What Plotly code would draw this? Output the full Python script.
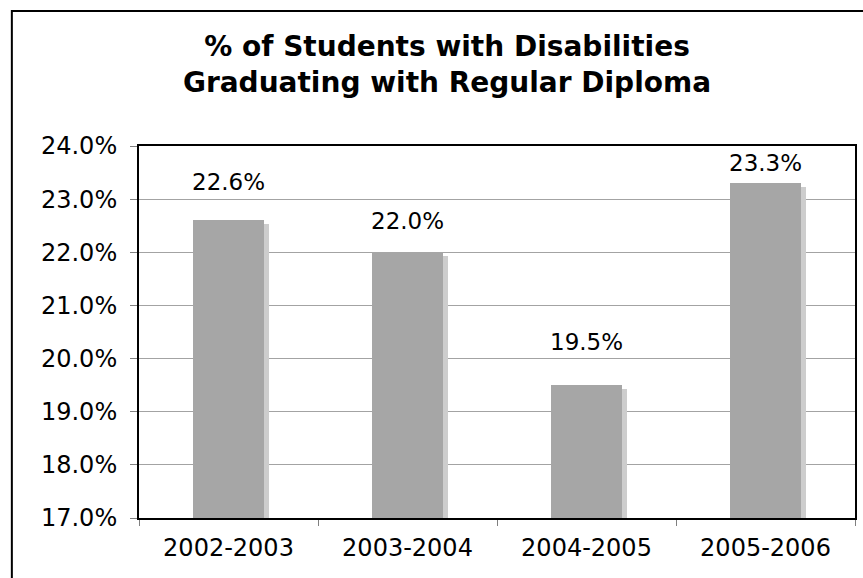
import plotly.graph_objects as go

# ---- data ----
categories = ["2002-2003", "2003-2004", "2004-2005", "2005-2006"]
values = [22.6, 22.0, 19.5, 23.3]
y_tick_values = [17, 18, 19, 20, 21, 22, 23, 24]
y_tick_labels = ["17.0%", "18.0%", "19.0%", "20.0%", "21.0%", "22.0%", "23.0%", "24.0%"]
title_lines = ["% of Students with Disabilities", "Graduating with Regular Diploma"]

# ---- style ----
FONT = "DejaVu Sans"
BAR_COLOR = "#a6a6a6"
SHADOW_COLOR = "#cdcdcd"
GRID_COLOR = "#a3a3a3"
bar_width = 0.40
shadow_dx = 0.028      # category units
shadow_dy = 0.075      # value units
label_shift_px = [38, 31, 43, 20]

fig = go.Figure()

# shadow
fig.add_trace(go.Bar(
    x=categories, y=[v - shadow_dy for v in values],
    width=bar_width, offset=-bar_width / 2 + shadow_dx,
    marker=dict(color=SHADOW_COLOR, line=dict(width=0)),
    hoverinfo="skip", showlegend=False,
))
# main bars
fig.add_trace(go.Bar(
    x=categories, y=values,
    width=bar_width, offset=-bar_width / 2,
    marker=dict(color=BAR_COLOR, line=dict(width=0)),
    showlegend=False,
))

for cat, v, s in zip(categories, values, label_shift_px):
    fig.add_annotation(
        x=cat, y=v, xref="x", yref="y", text=f"{v:.1f}%",
        showarrow=False, yanchor="middle", yshift=s,
        font=dict(family=FONT, size=23, color="black"),
    )

# outer border of the chart
L, R, T, B = 139, 857, 146, 518
pw, ph = R - L, B - T
fig.add_shape(
    type="rect", xref="paper", yref="paper",
    x0=(11.5 - L) / pw, x1=(875 - L) / pw,
    y0=(B - 590) / ph, y1=(B - 11) / ph,
    line=dict(color="black", width=2), fillcolor="rgba(0,0,0,0)",
    layer="above",
)

fig.update_layout(
    width=863, height=578,
    margin=dict(l=L, r=863 - R, t=T, b=578 - B),
    paper_bgcolor="white", plot_bgcolor="white",
    barmode="overlay", bargap=0,
    font=dict(family=FONT, color="black"),
    title=dict(
        text="<br>".join(title_lines),
        x=447 / 863, xanchor="center", xref="container",
        y=1 - 56 / 578, yanchor="middle", yref="container",
        font=dict(family=FONT, size=28, color="black", weight="bold"),
    ),
    xaxis=dict(
        type="category", range=[-0.5, 3.5],
        showline=True, linecolor="black", linewidth=2, mirror=True,
        ticks="outside", ticklen=6, tickcolor="#808080", tickson="boundaries",
        tickfont=dict(family=FONT, size=24, color="black"),
        ticklabelstandoff=7, showgrid=False,
    ),
    yaxis=dict(
        range=[17, 24], tickvals=y_tick_values, ticktext=y_tick_labels,
        showline=True, linecolor="black", linewidth=2, mirror=True,
        ticks="outside", ticklen=7, tickcolor="#808080",
        tickfont=dict(family=FONT, size=24, color="black"),
        ticklabelstandoff=8,
        showgrid=True, gridcolor=GRID_COLOR, gridwidth=1, zeroline=False,
    ),
)

fig.write_html("out.html", config={"displayModeBar": False},
               post_script="document.body.style.margin='0';")
